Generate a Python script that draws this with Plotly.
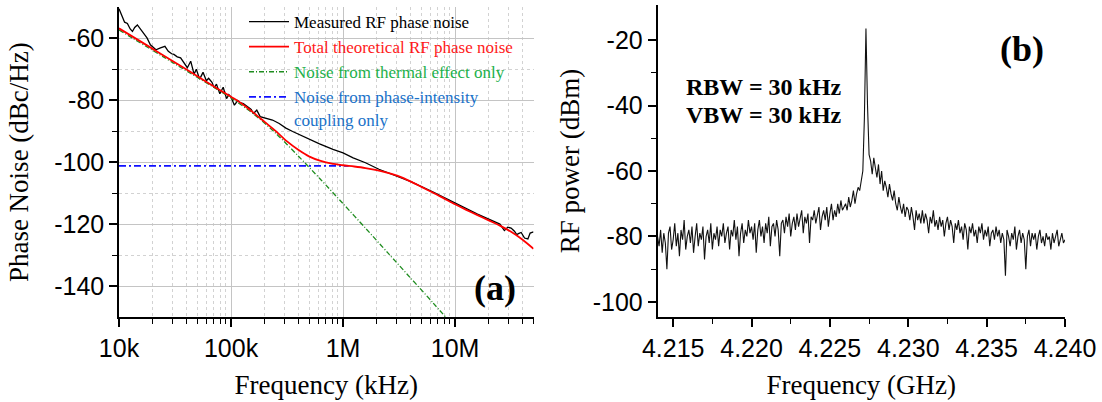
import plotly.graph_objects as go

# ---------------- Panel (a): phase noise (log10 of offset frequency) ----------------
meas_log10_f = [4.00, 4.02, 4.05, 4.075, 4.10, 4.12, 4.14, 4.164, 4.19, 4.21, 4.23, 4.25,
                4.28, 4.30, 4.33, 4.37, 4.41, 4.44, 4.47, 4.49, 4.52, 4.55, 4.58, 4.61,
                4.64, 4.67, 4.69, 4.72, 4.75, 4.78, 4.80, 4.83, 4.85, 4.87, 4.90, 4.93,
                4.96, 4.98, 5.00, 5.03, 5.06, 5.08, 5.11, 5.15, 5.18, 5.20, 5.23, 5.26,
                5.31, 5.37, 5.43, 5.49, 5.55, 5.615, 5.70, 5.79, 5.91, 6.00, 6.09, 6.20,
                6.32, 6.47, 6.60, 6.80, 7.00, 7.20, 7.40, 7.44, 7.47, 7.50, 7.53, 7.55,
                7.57, 7.59, 7.62, 7.65, 7.67, 7.70]
meas_db = [-50.5, -52.5, -54.8, -55.2, -57.0, -57.8, -56.5, -55.7, -57.0, -57.8, -58.8, -59.9,
           -62.1, -62.8, -63.7, -63.1, -62.6, -64.2, -65.0, -65.2, -66.0, -66.3, -67.9, -69.5,
           -67.4, -71.6, -70.0, -73.2, -71.0, -73.7, -72.9, -74.2, -76.0, -74.8, -77.9, -75.8,
           -79.5, -78.2, -79.0, -81.6, -80.1, -80.8, -81.1, -82.2, -83.0, -84.3, -83.2, -85.3,
           -85.9, -86.4, -87.5, -89.0, -90.1, -91.2, -92.8, -94.1, -95.9, -97.0, -98.6, -100.2,
           -102.3, -104.4, -106.2, -109.6, -113.3, -116.8, -120.0, -122.1, -121.0, -121.3, -122.3, -123.4,
           -123.0, -122.7, -124.5, -124.8, -122.9, -122.5]

total_log10_f = [4.0, 4.25, 4.5, 4.75, 5.0, 5.1, 5.2, 5.3, 5.4, 5.5, 5.6, 5.7, 5.8, 5.9, 6.0,
                 6.1, 6.2, 6.3, 6.4, 6.5, 6.6, 6.7, 6.8, 6.9, 7.0, 7.1, 7.2, 7.3, 7.4, 7.5,
                 7.6, 7.7]
total_db = [-56.8, -62.3, -67.8, -73.4, -78.9, -81.2, -84.0, -87.0, -90.0, -93.3, -96.0, -98.2,
            -99.6, -100.5, -101.0, -101.4, -101.9, -102.6, -103.5, -104.6, -106.2, -108.0,
            -109.8, -111.7, -113.6, -115.4, -117.1, -118.8, -120.5, -122.5, -125.0, -128.0]

thermal_log10_f = [4.0, 4.5, 5.0, 5.2, 5.4, 5.6, 5.8, 6.0, 6.2, 6.4, 6.6, 6.8, 6.92]
thermal_db = [-57.3, -68.3, -79.3, -84.4, -90.7, -98.0, -105.6, -113.4, -121.3, -129.3,
              -137.3, -145.3, -150.2]

coupling_log10_f = [4.0, 6.05]
coupling_db = [-101.2, -101.2]

a_tickvals = [1e4, 1e5, 1e6, 1e7]
a_ticktext = ["10k", "100k", "1M", "10M"]

# ---------------- Panel (b): RF spectrum ----------------
spec_f0 = 4.2140
spec_step = 0.0001
spec_dbm = [
    -80, -83, -78, -85, -79, -82, -90, -79, -77, -84,
    -81, -76, -83, -79, -86, -78, -81, -75, -84, -80,
    -78, -82, -77, -85, -80, -76, -83, -79, -81, -77,
    -87, -80, -78, -82, -76, -84, -79, -81, -77, -83,
    -78, -80, -76, -82, -79, -77, -84, -78, -80, -75,
    -81, -77, -86, -79, -76, -82, -78, -80, -75, -79,
    -77, -81, -76, -85, -78, -75, -80, -77, -82, -76,
    -79, -74, -83, -77, -76, -80, -75, -78, -86, -76,
    -75, -79, -74, -77, -73, -80, -76, -74, -78, -73,
    -77, -75, -72, -79, -74, -76, -73, -82, -74, -75,
    -72, -76, -73, -71, -78, -74, -72, -75, -71, -77,
    -73, -70, -75, -72, -74, -70, -73, -69, -72, -71,
    -70, -72, -68, -71, -69, -66, -70, -67, -65, -66,
    -63, -60, -44, -16.5, -40, -55, -57, -61, -56, -59,
    -62, -58, -64, -60, -66, -63, -65, -68, -64, -67,
    -69, -66, -70, -72, -68, -71, -73, -70, -74, -71,
    -72, -75, -71, -74, -78, -72, -75, -73, -76, -72,
    -76, -73, -75, -79, -74, -76, -72, -77, -75, -78,
    -74, -77, -75, -80, -76, -74, -78, -75, -77, -82,
    -76, -78, -75, -79, -77, -81, -76, -78, -84, -77,
    -79, -76, -80, -78, -82, -77, -79, -76, -81, -78,
    -80, -77, -83, -79, -78, -81, -77, -80, -78, -82,
    -79, -81, -92, -78, -80, -83, -79, -81, -77, -84,
    -80, -78, -82, -79, -81, -90, -80, -78, -83, -79,
    -81, -79, -84, -80, -78, -82, -80, -83, -79, -81,
    -80, -84, -79, -82, -80, -78, -83, -81, -79, -82, -81,
]
spec_ghz = [round(spec_f0 + i * spec_step, 5) for i in range(len(spec_dbm))]

b_tickvals = [4.215, 4.220, 4.225, 4.230, 4.235, 4.240]
b_ticktext = ["4.215", "4.220", "4.225", "4.230", "4.235", "4.240"]

# ---------------- Figure ----------------
W, H = 1102, 402
SERIF = "Liberation Serif, Times New Roman, serif"
SANS = "Liberation Sans, Arial, sans-serif"

def px_x(p):
    return p / W

def px_y(p):
    return 1 - p / H

fig = go.Figure()

def tolin(v):
    return [10 ** x for x in v]

fig.add_trace(go.Scatter(
    x=tolin(meas_log10_f), y=meas_db, mode="lines",
    line=dict(color="black", width=1.3),
    name="Measured RF phase noise", legendrank=1,
    xaxis="x", yaxis="y"))
fig.add_trace(go.Scatter(
    x=tolin(thermal_log10_f), y=thermal_db, mode="lines",
    line=dict(color="#1e8c1e", width=1.3, dash="5px,2px,1px,2px", shape="spline", smoothing=0.8),
    name='<span style="color:#22b04a">Noise from thermal effect only</span>', legendrank=3,
    xaxis="x", yaxis="y"))
fig.add_trace(go.Scatter(
    x=tolin(coupling_log10_f), y=coupling_db, mode="lines",
    line=dict(color="#1010ff", width=1.6, dash="7px,3px,2px,3px"),
    name='<span style="color:#1a72c9">Noise from phase-intensity</span><br><span style="color:#1a72c9">coupling only</span>',
    legendrank=4, xaxis="x", yaxis="y"))
fig.add_trace(go.Scatter(
    x=tolin(total_log10_f), y=total_db, mode="lines",
    line=dict(color="#ff0000", width=1.8, shape="spline", smoothing=0.8),
    name='<span style="color:#ff1a1a">Total theoretical RF phase noise</span>', legendrank=2,
    xaxis="x", yaxis="y"))

fig.add_trace(go.Scatter(
    x=spec_ghz, y=spec_dbm, mode="lines",
    line=dict(color="#111111", width=1.1),
    showlegend=False, xaxis="x2", yaxis="y2"))

# minor ticks for log axis
minor_log = []
for dec in [1e4, 1e5, 1e6, 1e7]:
    for m in range(2, 10):
        v = dec * m
        if v <= 5e7:
            minor_log.append(v)

axis_common = dict(showline=True, linecolor="black", linewidth=1.5, ticks="outside",
                   tickcolor="black", tickwidth=1.5, ticklen=8, mirror=False, zeroline=False,
                   automargin=False,
                   tickfont=dict(family=SANS, size=25, color="black"))

BOTTOM = 317

fig.update_layout(
    template="none",
    width=W, height=H,
    margin=dict(l=0, r=0, t=0, b=0, pad=0),
    paper_bgcolor="white", plot_bgcolor="white",
    showlegend=True,
    legend=dict(x=px_x(244), y=px_y(4), xanchor="left", yanchor="top",
                bgcolor="rgba(0,0,0,0)", borderwidth=0, valign="top",
                itemwidth=40,
                font=dict(family=SERIF, size=17, color="black"),
                tracegroupgap=0),
    xaxis=dict(axis_common, type="log", domain=[px_x(119), px_x(533.5)],
               range=[4, 7.70], anchor="y",
               tickmode="array", tickvals=a_tickvals, ticktext=a_ticktext,
               showgrid=True, gridcolor="#c4c4c4", gridwidth=1.2,
               minor=dict(tickmode="array", tickvals=minor_log, ticks="outside", ticklen=5,
                          tickwidth=1.2, tickcolor="black", showgrid=True,
                          gridcolor="#d2d2d2", gridwidth=1, griddash="dot"),
               title=dict(text="Frequency (kHz)", font=dict(family=SERIF, size=27, color="black"),
                          standoff=14)),
    yaxis=dict(axis_common, domain=[1 - BOTTOM / H, 1 - 7.3 / H], range=[-150, -50], anchor="x",
               tickmode="array", tickvals=[-60, -80, -100, -120, -140],
               ticktext=["-60", "-80", "-100", "-120", "-140"],
               showgrid=True, gridcolor="#c4c4c4", gridwidth=1.2,
               minor=dict(tickmode="array", tickvals=[-70, -90, -110, -130], ticks="outside",
                          ticklen=5, tickwidth=1.2, tickcolor="black", showgrid=True,
                          gridcolor="#d2d2d2", gridwidth=1, griddash="dot"),
               title=dict(text="Phase Noise (dBc/Hz)", font=dict(family=SERIF, size=27, color="black"),
                          standoff=18)),
    xaxis2=dict(axis_common, domain=[px_x(657.5), px_x(1065)], range=[4.214, 4.240], anchor="y2",
                tickmode="array", tickvals=b_tickvals, ticktext=b_ticktext, showgrid=False,
                minor=dict(tickmode="array", tickvals=[4.2175, 4.2225, 4.2275, 4.2325, 4.2375],
                           ticks="outside", ticklen=5, tickwidth=1.2, tickcolor="black", showgrid=False),
                title=dict(text="Frequency (GHz)", font=dict(family=SERIF, size=27, color="black"),
                           standoff=14)),
    yaxis2=dict(axis_common, domain=[1 - BOTTOM / H, 1 - 5 / H], range=[-104.6, -9.3], anchor="x2",
                tickmode="array", tickvals=[-20, -40, -60, -80, -100],
                ticktext=["-20", "-40", "-60", "-80", "-100"], showgrid=False,
                minor=dict(tickmode="array", tickvals=[-30, -50, -70, -90], ticks="outside",
                           ticklen=5, tickwidth=1.2, tickcolor="black", showgrid=False),
                title=dict(text="RF power (dBm)", font=dict(family=SERIF, size=27, color="black"),
                           standoff=5)),
    annotations=[
        dict(text="<b>(a)</b>", x=px_x(495), y=px_y(288), xref="paper", yref="paper",
             xanchor="center", yanchor="middle", showarrow=False,
             font=dict(family=SERIF, size=36, color="black")),
        dict(text="<b>(b)</b>", x=px_x(1022), y=px_y(49), xref="paper", yref="paper",
             xanchor="center", yanchor="middle", showarrow=False,
             font=dict(family=SERIF, size=36, color="black")),
        dict(text="<b>RBW = 30 kHz</b>", x=px_x(684), y=px_y(87), xref="paper", yref="paper",
             xanchor="left", yanchor="middle", showarrow=False,
             font=dict(family=SERIF, size=24, color="black")),
        dict(text="<b>VBW = 30 kHz</b>", x=px_x(684), y=px_y(115), xref="paper", yref="paper",
             xanchor="left", yanchor="middle", showarrow=False,
             font=dict(family=SERIF, size=24, color="black")),
    ],
)

fig.write_html("out.html", config={"displayModeBar": False},
               post_script="document.body.style.margin='0';")
